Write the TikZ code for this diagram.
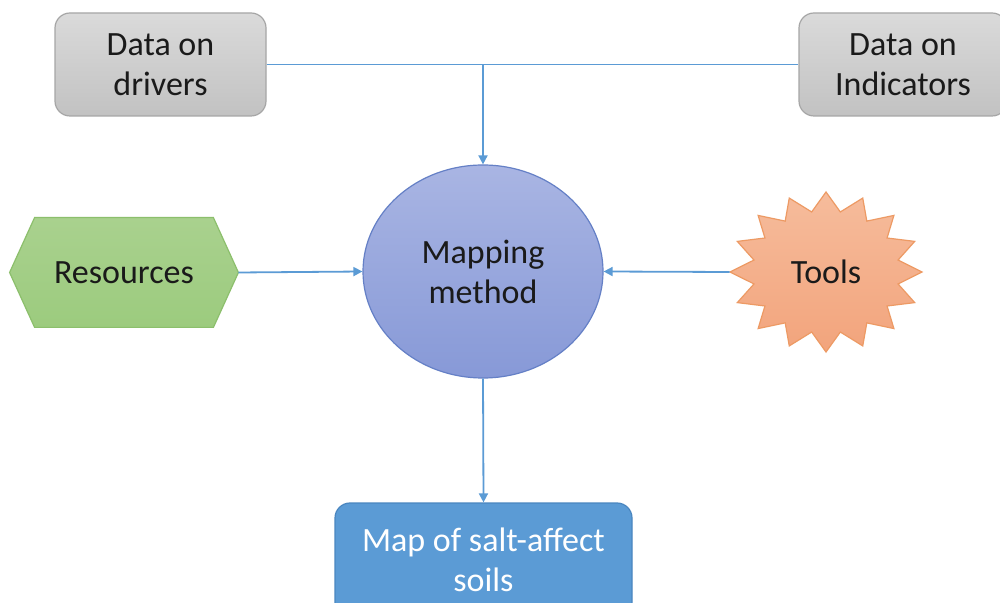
\documentclass[tikz,border=0pt]{standalone}
\usepackage{fontspec}
\setmainfont{Carlito}
\usetikzlibrary{arrows.meta,shapes.geometric}
\definecolor{lineblue}{HTML}{5B9BD5}
\definecolor{grayTop}{HTML}{DADADA}
\definecolor{grayBot}{HTML}{C2C2C2}
\definecolor{grayLine}{HTML}{A6A6A6}
\definecolor{ellTop}{HTML}{A9B5E3}
\definecolor{ellBot}{HTML}{8799D7}
\definecolor{ellLine}{HTML}{6580C6}
\definecolor{greenFill}{HTML}{A9D18E}
\definecolor{greenBot}{HTML}{9CCB7E}
\definecolor{greenLine}{HTML}{8CBF6C}
\definecolor{starTop}{HTML}{F6BC9C}
\definecolor{starBot}{HTML}{F2A47C}
\definecolor{starLine}{HTML}{ED9A64}
\definecolor{mapFill}{HTML}{5B9BD5}
\definecolor{mapLine}{HTML}{4A86C0}
\definecolor{txt}{HTML}{1A1A1A}
\tikzset{
  every node/.style={font=\fontsize{17pt}{20pt}\selectfont, text=txt, align=center, inner sep=0pt},
  graybox/.style={rounded corners=7.5pt, top color=grayTop, bottom color=grayBot, draw=grayLine, line width=0.6pt, minimum height=51.5pt},
  conn/.style={draw=lineblue, line width=0.9pt},
  arr/.style={conn, -{Triangle[length=4.5pt,width=4.5pt]}},
}
\begin{document}
\begin{tikzpicture}[x=0.5pt,y=-0.5pt]
\useasboundingbox (0,0) rectangle (1000,603);
\fill[white] (0,0) rectangle (1000,603);

% top boxes
\node[graybox, minimum width=105.5pt] (drivers) at (160.5,64.5) {Data on\\drivers};
\node[graybox, minimum width=104pt] (indicators) at (903,64.5) {Data on\\Indicators};

% central ellipse
\node[ellipse, minimum width=120pt, minimum height=106.5pt, top color=ellTop, bottom color=ellBot, draw=ellLine, line width=0.6pt] (map) at (483,271.5) {Mapping\\method};

% resources hexagon
\node[minimum width=114pt, minimum height=54.5pt] (res) at (124,272.5) {};
\draw[top color=greenFill, bottom color=greenBot, draw=greenLine, line width=0.6pt]
  (res.west) -- ([xshift=12.5pt]res.north west) -- ([xshift=-12.5pt]res.north east)
  -- (res.east) -- ([xshift=-12.5pt]res.south east) -- ([xshift=12.5pt]res.south west) -- cycle;
\node at (res.center) {Resources};

% tools star
\node[minimum width=96pt, minimum height=80pt] (tools) at (826,272) {};
\begin{scope}[shift={(tools.center)}]
\draw[top color=starTop, bottom color=starBot, draw=starLine, line width=0.6pt]
  (0,-80)
  \foreach \i [evaluate=\i as \a using -90+\i*11.25,
               evaluate=\i as \f using {ifthenelse(mod(\i,2)==0,1,0.765)}] in {1,...,31}
  { -- ({96*\f*cos(\a)},{80*\f*sin(\a)}) } -- cycle;
\end{scope}
\node at (tools.center) {Tools};

% result box
\node[rounded corners=7.5pt, fill=mapFill, draw=mapLine, line width=0.6pt, minimum width=148.5pt, minimum height=57pt, text=white] (result) at (483.5,560) {Map of salt-affect\\soils};

% connectors
\coordinate (junction) at (map.north |- drivers.east);
\draw[conn] (drivers.east) -- (indicators.west);
\draw[arr] (junction) -- (map.north);
\draw[arr] (res.east) -- (map.west);
\draw[arr] (tools.west) -- (map.east);
\draw[arr] (map.south) -- (result.north);
\end{tikzpicture}
\end{document}
